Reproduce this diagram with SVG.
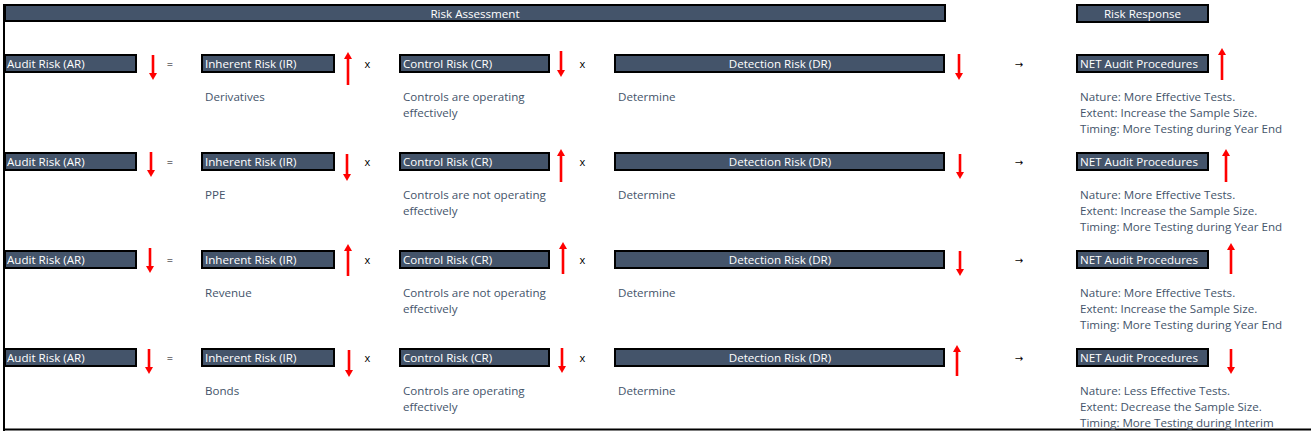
<svg xmlns="http://www.w3.org/2000/svg" width="1311" height="440" viewBox="0 0 1311 440">
<style>
  .box { fill: #44546a; stroke: #000; stroke-width: 2; }
  .bt { font-family: "Open Sans", "DejaVu Sans", sans-serif; font-size: 11.6px; fill: #ffffff; }
  .mid { text-anchor: middle; }
  .dt { font-family: "Open Sans", "DejaVu Sans", sans-serif; font-size: 11.6px; fill: #44546a; }
  .op { font-family: "Open Sans", "DejaVu Sans", sans-serif; font-size: 11px; fill: #000; text-anchor: middle; }
  .ra { font-family: "DejaVu Sans", sans-serif; font-size: 10px; fill: #000; text-anchor: middle; }
  .arw { stroke: #ff0000; stroke-width: 2.6; fill: none; marker-end: url(#ah); }
  .frame { stroke: #000; stroke-width: 2; fill: none; }
</style>
<defs>
  <marker id="ah" markerUnits="userSpaceOnUse" markerWidth="7" markerHeight="8" viewBox="0 0 7 8" refX="0.5" refY="4" orient="auto">
    <path d="M0,0 L7,4 L0,8 z" fill="#ff0000"/>
  </marker>
</defs>
<rect width="1311" height="440" fill="#ffffff"/>
<g id="frame">
  <line class="frame" x1="4" y1="4" x2="4" y2="431"/>
  <line class="frame" x1="3" y1="429.5" x2="1311" y2="429.5"/>
</g>
<g id="header-assessment">
  <rect class="box" x="5" y="5" width="940" height="16"/>
  <text class="bt mid" x="475" y="17.5">Risk Assessment</text>
</g>
<g id="header-response">
  <rect class="box" x="1077" y="5" width="131" height="17"/>
  <text class="bt mid" x="1142.5" y="18">Risk Response</text>
</g>

<!-- Row 1 -->
<g id="r1-ar"><rect class="box" x="5" y="55" width="131" height="17"/><text class="bt" x="7" y="68">Audit Risk (AR)</text></g>
<g id="r1-ir"><rect class="box" x="202" y="55" width="132" height="17"/><text class="bt" x="205" y="68">Inherent Risk (IR)</text><text class="dt" x="205" y="101">Derivatives</text></g>
<g id="r1-cr"><rect class="box" x="400" y="55" width="149" height="17"/><text class="bt" x="403" y="68">Control Risk (CR)</text><text class="dt" x="403" y="101">Controls are operating</text><text class="dt" x="403" y="117">effectively</text></g>
<g id="r1-dr"><rect class="box" x="615" y="55" width="329" height="17"/><text class="bt mid" x="780" y="68">Detection Risk (DR)</text><text class="dt" x="618" y="101">Determine</text></g>
<g id="r1-net"><rect class="box" x="1077" y="55" width="131" height="17"/><text class="bt" x="1080" y="68">NET Audit Procedures</text><text class="dt" x="1080" y="101">Nature: More Effective Tests.</text><text class="dt" x="1080" y="117">Extent: Increase the Sample Size.</text><text class="dt" x="1080" y="133">Timing: More Testing during Year End</text></g>
<g id="r1-ops"><text class="op" x="170" y="67.5">=</text><text class="op" x="367.5" y="67.5">x</text><text class="op" x="582.5" y="67.5">x</text><text class="ra" x="1019" y="67.5">→</text></g>

<!-- Row 2 -->
<g id="r2-ar"><rect class="box" x="5" y="153" width="131" height="17"/><text class="bt" x="7" y="166">Audit Risk (AR)</text></g>
<g id="r2-ir"><rect class="box" x="202" y="153" width="132" height="17"/><text class="bt" x="205" y="166">Inherent Risk (IR)</text><text class="dt" x="205" y="199">PPE</text></g>
<g id="r2-cr"><rect class="box" x="400" y="153" width="149" height="17"/><text class="bt" x="403" y="166">Control Risk (CR)</text><text class="dt" x="403" y="199">Controls are not operating</text><text class="dt" x="403" y="215">effectively</text></g>
<g id="r2-dr"><rect class="box" x="615" y="153" width="329" height="17"/><text class="bt mid" x="780" y="166">Detection Risk (DR)</text><text class="dt" x="618" y="199">Determine</text></g>
<g id="r2-net"><rect class="box" x="1077" y="153" width="131" height="17"/><text class="bt" x="1080" y="166">NET Audit Procedures</text><text class="dt" x="1080" y="199">Nature: More Effective Tests.</text><text class="dt" x="1080" y="215">Extent: Increase the Sample Size.</text><text class="dt" x="1080" y="231">Timing: More Testing during Year End</text></g>
<g id="r2-ops"><text class="op" x="170" y="165.5">=</text><text class="op" x="367.5" y="165.5">x</text><text class="op" x="582.5" y="165.5">x</text><text class="ra" x="1019" y="165.5">→</text></g>

<!-- Row 3 -->
<g id="r3-ar"><rect class="box" x="5" y="251" width="131" height="17"/><text class="bt" x="7" y="264">Audit Risk (AR)</text></g>
<g id="r3-ir"><rect class="box" x="202" y="251" width="132" height="17"/><text class="bt" x="205" y="264">Inherent Risk (IR)</text><text class="dt" x="205" y="297">Revenue</text></g>
<g id="r3-cr"><rect class="box" x="400" y="251" width="149" height="17"/><text class="bt" x="403" y="264">Control Risk (CR)</text><text class="dt" x="403" y="297">Controls are not operating</text><text class="dt" x="403" y="313">effectively</text></g>
<g id="r3-dr"><rect class="box" x="615" y="251" width="329" height="17"/><text class="bt mid" x="780" y="264">Detection Risk (DR)</text><text class="dt" x="618" y="297">Determine</text></g>
<g id="r3-net"><rect class="box" x="1077" y="251" width="131" height="17"/><text class="bt" x="1080" y="264">NET Audit Procedures</text><text class="dt" x="1080" y="297">Nature: More Effective Tests.</text><text class="dt" x="1080" y="313">Extent: Increase the Sample Size.</text><text class="dt" x="1080" y="329">Timing: More Testing during Year End</text></g>
<g id="r3-ops"><text class="op" x="170" y="263.5">=</text><text class="op" x="367.5" y="263.5">x</text><text class="op" x="582.5" y="263.5">x</text><text class="ra" x="1019" y="263.5">→</text></g>

<!-- Row 4 -->
<g id="r4-ar"><rect class="box" x="5" y="349" width="131" height="17"/><text class="bt" x="7" y="362">Audit Risk (AR)</text></g>
<g id="r4-ir"><rect class="box" x="202" y="349" width="132" height="17"/><text class="bt" x="205" y="362">Inherent Risk (IR)</text><text class="dt" x="205" y="395">Bonds</text></g>
<g id="r4-cr"><rect class="box" x="400" y="349" width="149" height="17"/><text class="bt" x="403" y="362">Control Risk (CR)</text><text class="dt" x="403" y="395">Controls are operating</text><text class="dt" x="403" y="411">effectively</text></g>
<g id="r4-dr"><rect class="box" x="615" y="349" width="329" height="17"/><text class="bt mid" x="780" y="362">Detection Risk (DR)</text><text class="dt" x="618" y="395">Determine</text></g>
<g id="r4-net"><rect class="box" x="1077" y="349" width="131" height="17"/><text class="bt" x="1080" y="362">NET Audit Procedures</text><text class="dt" x="1080" y="395">Nature: Less Effective Tests.</text><text class="dt" x="1080" y="411">Extent: Decrease the Sample Size.</text><text class="dt" x="1080" y="427">Timing: More Testing during Interim</text></g>
<g id="r4-ops"><text class="op" x="170" y="361.5">=</text><text class="op" x="367.5" y="361.5">x</text><text class="op" x="582.5" y="361.5">x</text><text class="ra" x="1019" y="361.5">→</text></g>

<g id="connectors">
  <!-- row 1 -->
  <line class="arw" x1="153" y1="55" x2="153" y2="73.5"/>
  <line class="arw" x1="348" y1="85" x2="348" y2="58.5"/>
  <line class="arw" x1="561" y1="51" x2="561" y2="70.5"/>
  <line class="arw" x1="959" y1="54" x2="959" y2="73.5"/>
  <line class="arw" x1="1222" y1="80" x2="1222" y2="54.5"/>
  <!-- row 2 -->
  <line class="arw" x1="151" y1="152" x2="151" y2="170.5"/>
  <line class="arw" x1="347" y1="154" x2="347" y2="174.5"/>
  <line class="arw" x1="561" y1="182" x2="561" y2="155.5"/>
  <line class="arw" x1="960" y1="154" x2="960" y2="172.5"/>
  <line class="arw" x1="1226" y1="182" x2="1226" y2="155.5"/>
  <!-- row 3 -->
  <line class="arw" x1="150" y1="248" x2="150" y2="266.5"/>
  <line class="arw" x1="348" y1="276" x2="348" y2="250.5"/>
  <line class="arw" x1="563" y1="274" x2="563" y2="248.5"/>
  <line class="arw" x1="960" y1="251" x2="960" y2="269.5"/>
  <line class="arw" x1="1231" y1="274" x2="1231" y2="249.5"/>
  <!-- row 4 -->
  <line class="arw" x1="149" y1="349" x2="149" y2="367.5"/>
  <line class="arw" x1="349" y1="350" x2="349" y2="370.5"/>
  <line class="arw" x1="562" y1="348" x2="562" y2="366.5"/>
  <line class="arw" x1="957" y1="376" x2="957" y2="351.5"/>
  <line class="arw" x1="1231" y1="349" x2="1231" y2="367.5"/>
</g>
</svg>
